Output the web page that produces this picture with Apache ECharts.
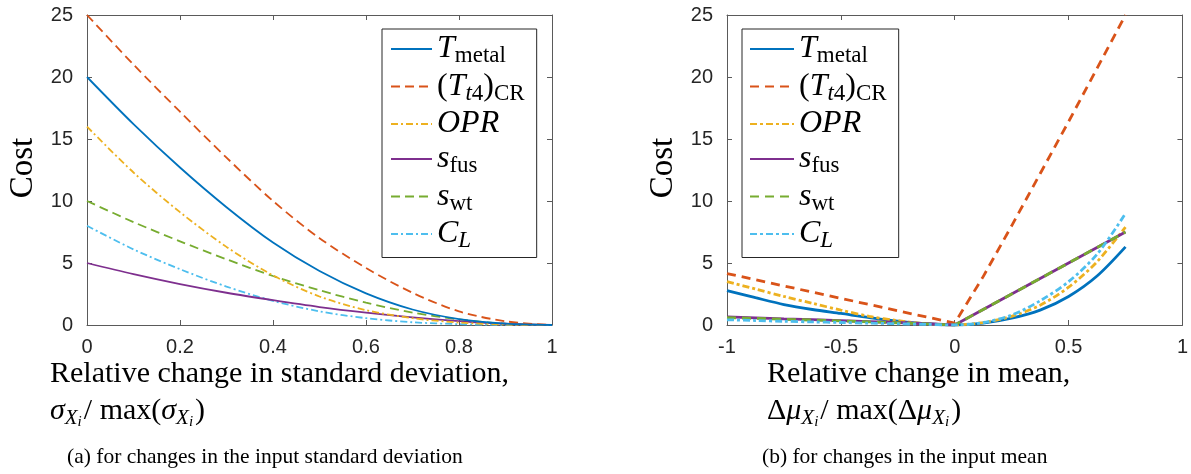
<!DOCTYPE html>
<html><head><meta charset="utf-8">
<script src="https://cdn.jsdelivr.net/npm/echarts@6/dist/echarts.min.js"></script>
<style>html,body{margin:0;padding:0;background:#fff}#c{width:1191px;height:474px}</style>
</head><body><div id="c"></div>
<script>
// ---------- data ----------
const seriesKeys = ['Tmetal', 'Tt4', 'OPR', 'sfus', 'swt', 'CL'];
// (a) standard deviation
const sigmaX    = [0, 0.1, 0.2, 0.3, 0.4, 0.5, 0.6, 0.7, 0.8, 0.9, 1.0];
const sigTmetal = [20, 16.2, 12.7, 9.5, 6.65, 4.35, 2.55, 1.25, 0.48, 0.11, 0];
const sigTt4    = [25, 21.0, 17.2, 13.5, 10.0, 7.0, 4.6, 2.6, 1.1, 0.3, 0];
const sigOPR    = [16, 12.3, 9.1, 6.3, 4.0, 2.3, 1.2, 0.55, 0.2, 0.04, 0];
const sigSfus   = [5, 4.1, 3.3, 2.6, 2.0, 1.45, 1.0, 0.62, 0.32, 0.1, 0];
const sigSwt    = [10, 8.3, 6.75, 5.3, 3.95, 2.8, 1.8, 1.0, 0.45, 0.1, 0];
const sigCL     = [8, 6.1, 4.5, 3.1, 1.95, 1.1, 0.55, 0.22, 0.07, 0.01, 0];
// (b) mean
const meanX    = [-1, -0.875, -0.75, -0.625, -0.5, -0.375, -0.25, -0.125, 0, 0.125, 0.25, 0.375, 0.5, 0.625, 0.75];
const muTmetal = [2.77, 2.2, 1.65, 1.25, 0.93, 0.6, 0.32, 0.1, 0, 0.15, 0.55, 1.2, 2.3, 3.95, 6.3];
const muTt4    = [4.15, 3.65, 3.15, 2.65, 2.15, 1.65, 1.15, 0.65, 0.15, 3.9, 8.0, 12.2, 16.4, 20.7, 25];
const muOPR    = [3.5, 2.9, 2.3, 1.75, 1.2, 0.7, 0.35, 0.1, 0, 0.2, 0.7, 1.6, 3.05, 5.1, 7.9];
const muSfus   = [0.65, 0.58, 0.5, 0.43, 0.36, 0.28, 0.2, 0.1, 0, 1.25, 2.5, 3.75, 5.0, 6.25, 7.5];
const muSwt    = [0.6, 0.53, 0.46, 0.4, 0.33, 0.26, 0.18, 0.09, 0, 1.25, 2.5, 3.75, 5.0, 6.25, 7.5];
const muCL     = [0.42, 0.36, 0.3, 0.25, 0.2, 0.15, 0.1, 0.05, 0, 0.2, 0.8, 1.95, 3.5, 5.7, 9.0];

const sigValues = [sigTmetal, sigTt4, sigOPR, sigSfus, sigSwt, sigCL];
const muValues  = [muTmetal, muTt4, muOPR, muSfus, muSwt, muCL];

// ---------- styles ----------
const colors = ['#0072BD', '#D95319', '#EDB120', '#7E2F8E', '#77AC30', '#4DBEEE'];
const dashA = ['solid', [9, 5], [7, 3, 2, 3], 'solid', [9, 5], [7, 3, 2, 3]];
const dashB = ['solid', [9, 6], [7, 3, 3, 3], 'solid', [9, 6], [7, 3, 3, 3]];
const smoothB = [0.3, false, 0.3, false, false, 0.3];
const axisColor = '#5a5a5a';
const serif = 'Liberation Serif';
const sans = 'Liberation Sans';

const legendLabels = {
  Tmetal: '{i|T}{s|metal}',
  Tt4: '{r|(}{i|T}{si|t}{s|4}{r|)}{s|CR}',
  OPR: '{i|OPR}',
  sfus: '{i|s}{s|fus}',
  swt: '{i|s}{s|wt}',
  CL: '{i|C}{si|L}'
};
const legendRich = {
  i: {fontFamily: serif, fontStyle: 'italic', fontSize: 32, color: '#000'},
  r: {fontFamily: serif, fontSize: 32, color: '#000'},
  s: {fontFamily: serif, fontSize: 23, padding: [14, 0, 0, 0], color: '#000'},
  si: {fontFamily: serif, fontStyle: 'italic', fontSize: 23, padding: [14, 0, 0, 0], color: '#000'}
};

function xAx(gi, min, max, interval, pos) {
  return {
    type: 'value', gridIndex: gi, min: min, max: max, interval: interval, position: pos,
    axisLine: {show: true, onZero: false, lineStyle: {color: axisColor, width: 1}},
    axisTick: {show: true, inside: true, length: 5, lineStyle: {color: axisColor}},
    axisLabel: {show: pos === 'bottom', margin: 12, fontFamily: sans, fontSize: 20, color: '#262626'},
    splitLine: {show: false}
  };
}
function yAx(gi, pos) {
  return {
    type: 'value', gridIndex: gi, min: 0, max: 25, interval: 5, position: pos,
    axisLine: {show: true, onZero: false, lineStyle: {color: axisColor, width: 1}},
    axisTick: {show: true, inside: true, length: 5, lineStyle: {color: axisColor}},
    axisLabel: {show: pos === 'left', margin: 14, fontFamily: sans, fontSize: 20, color: '#262626'},
    splitLine: {show: false}
  };
}

const series = [];
seriesKeys.forEach((k, idx) => {
  series.push({
    name: 'a:' + k, type: 'line', xAxisIndex: 0, yAxisIndex: 0,
    data: sigmaX.map((x, j) => [x, sigValues[idx][j]]),
    symbol: 'none', smooth: 0.3,
    lineStyle: {color: colors[idx], width: 1.8, type: dashA[idx]},
    itemStyle: {color: colors[idx]}, z: 10 - idx
  });
});
seriesKeys.forEach((k, idx) => {
  series.push({
    name: 'b:' + k, type: 'line', xAxisIndex: 2, yAxisIndex: 2,
    data: meanX.map((x, j) => [x, muValues[idx][j]]),
    symbol: 'none', smooth: smoothB[idx],
    lineStyle: {color: colors[idx], width: 2.8, type: dashB[idx]},
    itemStyle: {color: colors[idx]}, z: 10 + idx
  });
});

function legend(prefix, left, padL, itemW) {
  return {
    data: seriesKeys.map(k => prefix + k),
    orient: 'vertical', left: left, top: 29,
    itemWidth: itemW, itemHeight: 14, itemGap: 3,
    padding: [4, 12, 5, padL],
    backgroundColor: '#fff', borderColor: '#262626', borderWidth: 1, borderRadius: 0,
    selectedMode: false,
    itemStyle: {opacity: 0},
    formatter: n => legendLabels[n.slice(2)],
    textStyle: {rich: legendRich}
  };
}

const xlRich = {
  m: {fontFamily: serif, fontStyle: 'italic', fontSize: 30, lineHeight: 30, fill: '#000'},
  r: {fontFamily: serif, fontSize: 30, lineHeight: 30, fill: '#000'},
  x: {fontFamily: serif, fontStyle: 'italic', fontSize: 21, padding: [14, 0, 0, 0], fill: '#000'},
  xi: {fontFamily: serif, fontStyle: 'italic', fontSize: 15, padding: [22, 2, 0, 0], fill: '#000'}
};
function txt(x, y, text, size) {
  return {type: 'text', x: x, y: y, silent: true,
    style: {text: text, fontFamily: serif, fontSize: size, fill: '#000', verticalAlign: 'middle', align: 'left'}};
}

const option = {
  animation: false,
  backgroundColor: '#fff',
  grid: [
    {left: 87, right: 639, top: 15, bottom: 149, containLabel: false},
    {left: 727, right: 2, top: 15, bottom: 149, containLabel: false}
  ],
  xAxis: [xAx(0, 0, 1, 0.2, 'bottom'), xAx(0, 0, 1, 0.2, 'top'), xAx(1, -1, 1, 0.5, 'bottom'), xAx(1, -1, 1, 0.5, 'top')],
  yAxis: [yAx(0, 'left'), yAx(0, 'right'), yAx(1, 'left'), yAx(1, 'right')],
  legend: [legend('a:', 382, 8, 41), legend('b:', 742, 7, 44)],
  series: series,
  graphic: [
    {type: 'text', x: 23.5, y: 168, rotation: Math.PI / 2, silent: true,
     style: {text: 'Cost', fontFamily: serif, fontSize: 33, fill: '#000', align: 'center', verticalAlign: 'middle'}},
    {type: 'text', x: 663.5, y: 168, rotation: Math.PI / 2, silent: true,
     style: {text: 'Cost', fontFamily: serif, fontSize: 33, fill: '#000', align: 'center', verticalAlign: 'middle'}},
    txt(50, 374, 'Relative change in standard deviation,', 30),
    {type: 'text', x: 50, y: 411, silent: true,
     style: {text: '{m|σ}{x|X}{xi|i}{r|/ max(}{m|σ}{x|X}{xi|i}{r|)}', rich: xlRich, verticalAlign: 'middle', align: 'left'}},
    txt(67, 457, '(a) for changes in the input standard deviation', 21.5),
    txt(767, 374, 'Relative change in mean,', 30),
    {type: 'text', x: 767, y: 411, silent: true,
     style: {text: '{r|Δ}{m|μ}{x|X}{xi|i}{r|/ max(Δ}{m|μ}{x|X}{xi|i}{r|)}', rich: xlRich, verticalAlign: 'middle', align: 'left'}},
    txt(762, 457, '(b) for changes in the input mean', 21.5)
  ]
};
const chart = echarts.init(document.getElementById('c'));
chart.setOption(option);
</script></body></html>
